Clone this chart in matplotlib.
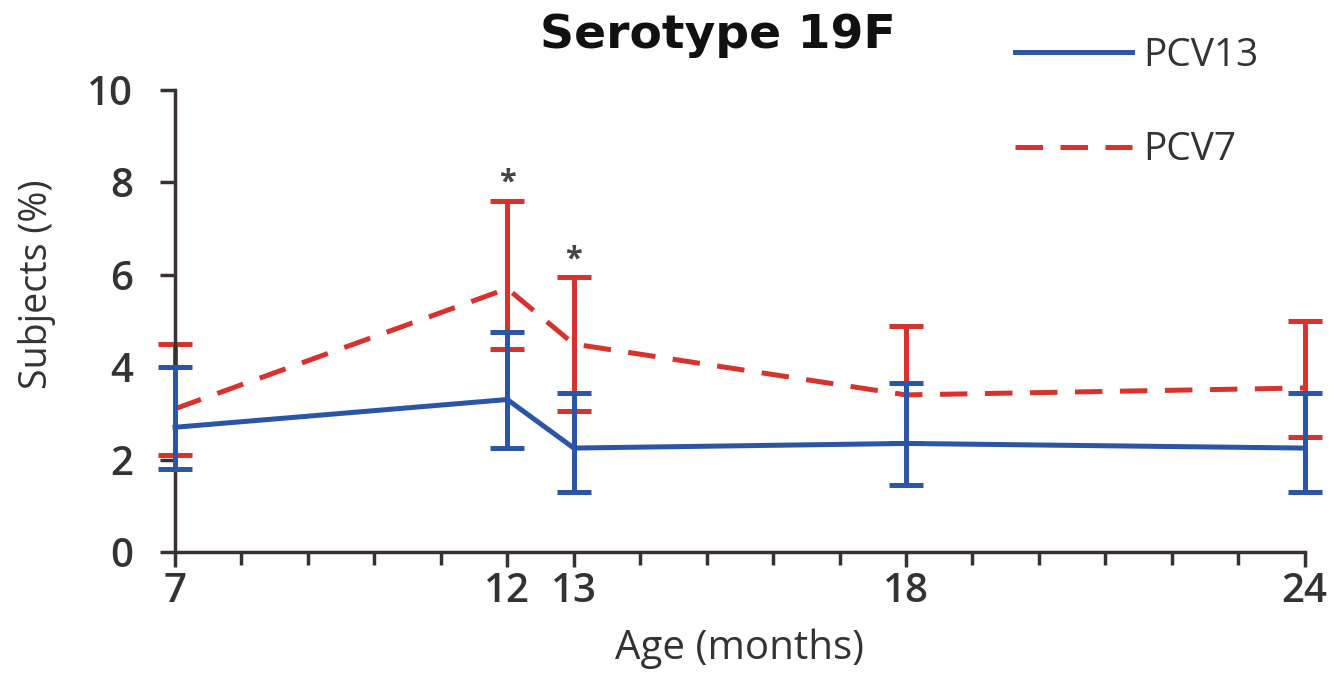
import matplotlib
matplotlib.use("Agg")
import matplotlib.pyplot as plt
from matplotlib.ticker import FixedLocator

# data
ages = [7, 12, 13, 18, 24]
pcv13 = [2.7, 3.3, 2.25, 2.35, 2.25]
pcv13_lo = [1.8, 2.25, 1.3, 1.45, 1.3]
pcv13_hi = [4.0, 4.75, 3.45, 3.65, 3.45]
pcv7 = [3.1, 5.7, 4.5, 3.4, 3.55]
pcv7_lo = [2.1, 4.4, 3.05, 2.35, 2.5]
pcv7_hi = [4.5, 7.6, 5.95, 4.9, 5.0]
star_ages = [12, 13]
star_vals = [7.6, 5.95]

blue = "#2b55a6"
red = "#d8322c"
ink = "#333333"
sans = ["Open Sans", "DejaVu Sans"]

fig = plt.figure(figsize=(13.3, 6.85), dpi=100)
ax = fig.add_axes([0.1316, 0.194, 0.8494, 0.675])

err7 = [[v - l for v, l in zip(pcv7, pcv7_lo)], [h - v for v, h in zip(pcv7, pcv7_hi)]]
err13 = [[v - l for v, l in zip(pcv13, pcv13_lo)], [h - v for v, h in zip(pcv13, pcv13_hi)]]

l7, c7, b7 = ax.errorbar(ages, pcv7, yerr=err7, color=red, lw=3.6, elinewidth=3.6,
                         capsize=12.5, capthick=3.6, zorder=2, clip_on=False, label="PCV7")
l7.set_dashes((5.5, 3.5))
l13, c13, b13 = ax.errorbar(ages, pcv13, yerr=err13, color=blue, lw=3.6, elinewidth=3.6,
                            capsize=12.5, capthick=3.6, zorder=3, clip_on=False, label="PCV13")

for a, v in zip(star_ages, star_vals):
    ax.annotate("*", (a, v), xytext=(0, 2), textcoords="offset points", ha="center",
                va="bottom", fontsize=22, fontweight="bold", color="#444444", family=sans)

ax.set_xlim(7, 24)
ax.set_ylim(0, 10)
ax.set_xticks(ages)
ax.xaxis.set_minor_locator(FixedLocator(range(7, 25)))
ax.set_yticks([0, 2, 4, 6, 8, 10])
ax.tick_params(axis="both", which="both", direction="out", color="#3a3030", width=2.5,
               labelsize=29, labelcolor=ink)
ax.tick_params(axis="x", which="major", length=11, pad=3)
ax.tick_params(axis="x", which="minor", length=9)
ax.tick_params(axis="y", which="major", length=11, pad=19)
for lab in ax.get_xticklabels() + ax.get_yticklabels():
    lab.set_family(sans)
    lab.set_fontweight("semibold")

for s in ["top", "right"]:
    ax.spines[s].set_visible(False)
for s in ["left", "bottom"]:
    ax.spines[s].set_color("#3a3030")
    ax.spines[s].set_linewidth(2.5)

ax.set_xlabel("Age (months)", fontsize=29, color=ink, family=sans, labelpad=12)
ax.set_ylabel("Subjects (%)", fontsize=27, color=ink, family=sans, labelpad=12)
ax.yaxis.set_label_coords(-0.105, 0.58)
fig.text(0.54, 0.948, "Serotype 19F", fontsize=34, fontweight="bold", family=["DejaVu Sans"],
         color="#111111", ha="center", va="center")

leg = ax.legend([l13, l7], ["PCV13", "PCV7"], loc="upper right", bbox_to_anchor=(0.99, 1.19),
                frameon=False, handlelength=3.0, handletextpad=0.3, labelspacing=1.45,
                prop={"family": sans, "size": 28})
for t in leg.get_texts():
    t.set_color(ink)

fig.savefig("out.png", dpi=100)
